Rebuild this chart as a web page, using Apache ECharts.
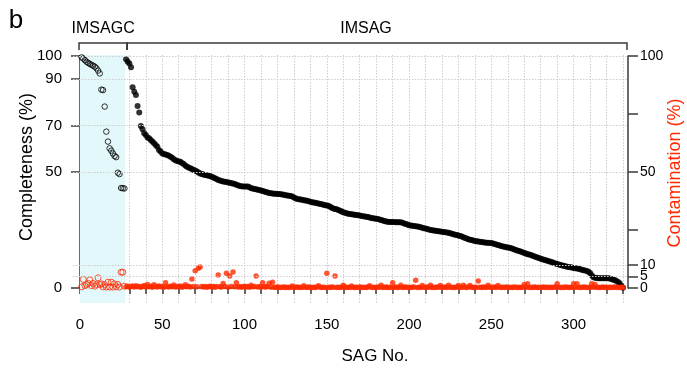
<!DOCTYPE html>
<html><head><meta charset="utf-8">
<script src="https://cdn.jsdelivr.net/npm/echarts@6/dist/echarts.min.js"></script>
<style>html,body{margin:0;padding:0;background:#fff}#c{width:687px;height:368px}</style>
</head><body><div id="c"></div>
<script>
// ---- data (SAG No. starts at 1; IMSAGC = 1..27, IMSAG = 28..330) ----
const imsagcCompleteness = [99.4,98.9,98.2,97.5,97.0,96.6,96.2,95.8,95.4,94.7,93.7,92.5,85.5,85.3,78.2,67.4,63.1,60.2,59.2,58.0,56.9,56.4,49.7,49.1,43.1,43.0,42.9];
const imsagCompleteness = [
98.6,97.5,96.8,95.1,86.5,84.6,83.2,78.4,75.6,69.8,
68.4,66.7,65.9,64.9,64.5,63.8,63.1,62.4,61.6,60.9,
59.5,58.8,58.0,57.8,57.5,57.3,57.0,56.6,56.1,55.5,
55.1,54.7,54.5,54.4,53.9,53.4,52.8,52.3,51.9,51.6,
51.3,50.9,50.6,50.2,49.8,49.4,49.1,48.9,48.7,48.6,
48.4,48.3,47.9,47.6,47.3,47.0,46.6,46.3,46.1,45.9,
45.8,45.7,45.5,45.4,45.2,45.0,44.8,44.5,44.3,44.0,
43.9,43.8,43.8,43.7,43.7,43.4,43.0,42.9,42.7,42.6,
42.4,42.2,42.0,41.8,41.6,41.4,41.2,41.0,40.8,40.7,
40.6,40.6,40.5,40.5,40.4,40.3,40.2,40.0,39.9,39.8,
39.7,39.4,39.0,38.7,38.4,38.3,38.1,38.0,37.8,37.7,
37.6,37.4,37.2,37.0,36.8,36.7,36.5,36.4,36.2,36.1,
35.9,35.7,35.6,35.4,35.0,34.6,34.3,34.1,33.9,33.6,
33.3,33.0,32.7,32.4,32.2,32.0,31.9,31.8,31.7,31.6,
31.5,31.4,31.2,31.0,30.9,30.8,30.7,30.6,30.4,30.2,
30.1,30.0,29.8,29.7,29.5,29.3,29.1,28.9,28.7,28.6,
28.5,28.4,28.4,28.4,28.3,28.3,28.3,28.3,28.1,27.8,
27.6,27.4,27.1,26.9,26.8,26.7,26.6,26.5,26.4,26.2,
26.0,25.8,25.6,25.4,25.2,25.0,24.9,24.8,24.7,24.6,
24.5,24.3,24.2,24.1,24.0,23.9,23.8,23.6,23.4,23.2,
23.0,22.8,22.6,22.4,22.2,21.9,21.6,21.3,21.0,20.8,
20.7,20.5,20.3,20.2,20.0,19.9,19.8,19.7,19.6,19.5,
19.5,19.4,19.4,19.2,19.0,18.8,18.5,18.3,18.1,17.9,
17.8,17.6,17.5,17.3,17.1,16.9,16.6,16.4,16.1,15.9,
15.6,15.4,15.1,14.9,14.6,14.4,14.2,13.9,13.7,13.4,
13.1,12.9,12.6,12.4,12.2,12.0,11.7,11.5,11.3,11.1,
10.8,10.6,10.3,10.1,9.9,9.7,9.6,9.4,9.2,9.0,
8.9,8.8,8.6,8.5,8.4,8.3,8.1,7.9,7.7,7.5,
7.3,7.0,6.5,5.5,4.6,4.4,4.3,4.2,4.2,4.2,
4.2,4.2,4.2,4.2,4.1,3.9,3.6,3.4,3.0,2.6,
2.0,1.0,0.1];
const imsagcContamination = [0.5,3.7,1.0,1.5,2.0,3.5,1.0,2.0,0.8,1.5,4.4,1.5,1.8,0.5,1.5,0.4,2.5,0.4,2.5,0.4,1.8,0.5,1.5,0.4,6.8,6.8,0.8];
const imsagContamination = [
0.5,0.8,0.3,0.6,0.9,0.4,1.0,0.5,0.7,0.3,
0.6,1.1,0.4,1.5,0.5,0.8,0.3,1.4,0.6,0.4,
0.9,0.5,0.7,0.3,2.3,0.6,0.4,0.8,0.5,1.3,
0.4,0.7,0.5,0.9,0.3,0.6,1.4,0.5,0.8,0.4,
3.9,0.6,7.4,0.5,8.5,9.1,0.7,0.4,0.6,0.3,
0.5,0.8,0.4,0.6,0.3,0.7,5.6,0.5,0.4,1.9,
0.6,6.4,0.3,5.2,0.7,6.9,0.5,2.3,0.4,0.6,
0.3,0.5,0.8,0.4,0.6,0.3,1.2,0.5,0.7,5.2,
0.4,0.6,0.3,2.3,0.5,0.4,0.7,2.0,0.3,2.5,
0.3,0.2,0.4,0.3,0.2,0.3,0.4,0.2,0.3,0.2,
0.3,0.9,0.2,0.3,0.4,0.2,0.3,0.2,1.0,0.3,
0.2,0.4,0.3,0.2,0.3,0.2,0.4,1.0,0.3,0.2,
0.3,0.2,6.4,0.3,0.2,0.4,0.3,5.2,0.2,0.3,
0.2,0.3,1.2,0.4,0.2,0.3,0.2,0.9,0.3,0.2,
0.3,0.2,0.4,0.3,0.2,0.3,0.2,0.4,1.0,0.3,
0.2,0.3,0.2,0.4,0.3,1.2,0.2,0.3,0.4,0.2,
0.3,0.2,2.3,0.3,0.4,0.2,0.3,1.2,0.2,0.3,
0.4,0.2,0.3,0.2,0.3,0.4,3.3,0.2,0.3,0.2,
1.1,0.3,0.2,0.4,0.3,1.2,0.2,0.3,0.2,0.4,
0.3,1.1,0.2,0.3,0.4,0.2,1.2,0.3,0.2,0.3,
0.2,0.4,1.1,0.3,0.2,1.2,0.3,0.2,0.4,1.1,
0.3,0.2,0.3,0.2,3.0,0.3,0.2,0.4,0.3,0.2,
1.2,0.3,0.2,0.3,0.4,0.2,1.1,0.3,0.2,0.3,
0.2,0.4,0.3,0.2,0.3,0.2,0.4,0.3,0.2,0.3,
0.2,0.3,1.5,0.3,1.8,0.2,0.3,0.2,0.4,0.3,
0.2,0.3,0.2,0.3,0.4,0.2,0.3,0.2,0.3,0.2,
0.3,0.4,1.8,0.3,0.2,0.3,0.2,0.4,0.3,0.2,
0.3,0.2,1.8,0.3,1.8,0.2,0.3,0.2,0.4,0.3,
0.2,0.3,0.2,1.8,0.3,1.5,0.2,0.3,0.2,0.3,
0.4,0.2,0.3,0.2,0.3,0.2,0.3,0.4,0.2,0.3,
0.2,0.3,0.2];
const groupNames = ['IMSAGC', 'IMSAG'];
const xLabelValues = [0, 50, 100, 150, 200, 250, 300];
const leftTickValues = [0, 50, 70, 90, 100];
const rightTickValues = [0, 5, 10, 25, 50, 75, 100];
const rightLabelValues = [0, 5, 10, 50, 100];
const completenessGridLines = [100, 90, 70, 50];
const contaminationGridLines = [10, 5];
const xMax = 330;

// ---- build ----
const FONT = '"Liberation Sans", Arial, sans-serif';
const RED = '#ff2a00';
const AX = '#3a3a3a';
const firstImsag = imsagcCompleteness.length + 1;
const pairs = (arr, start) => arr.map((v, i) => [start + i, v]);
// right-axis labels are tightly packed at the bottom; split them over two stacked axes so none is dropped
const rightLabelsA = rightLabelValues.filter((v, i) => i % 2 === 0);
const rightLabelsB = rightLabelValues.filter((v, i) => i % 2 === 1);

const chart = echarts.init(document.getElementById('c'), null, { renderer: 'canvas' });
const labelStyle = { color: '#000', fontSize: 15, fontFamily: FONT };
const rightLabelStyle = { margin: 12, showMinLabel: true, showMaxLabel: true, hideOverlap: false, ...labelStyle, fontSize: 14 };

chart.setOption({
  animation: false,
  backgroundColor: '#fff',
  grid: [
    { left: 80, right: 64, top: 56, bottom: 80 },   // data grid
    { left: 80, right: 64, top: 55, bottom: 65 },   // background: band + vertical lines
    { left: 73, right: 59, top: 56, bottom: 80 }    // horizontal dotted lines
  ],
  xAxis: [
    { gridIndex: 0, type: 'value', min: 0, max: xMax, interval: 10, offset: 18,
      axisLine: { lineStyle: { color: AX, width: 1.5 } },
      axisTick: { length: 6, lineStyle: { color: AX, width: 1.5 } },
      axisLabel: { customValues: xLabelValues, margin: 11, ...labelStyle },
      splitLine: { show: false } },
    { gridIndex: 1, type: 'value', min: 0, max: xMax, interval: 10,
      axisLine: { show: false }, axisTick: { show: false }, axisLabel: { show: false },
      splitLine: { show: true, lineStyle: { color: '#cdcdcd', width: 1, type: [1.5, 1.5] } } },
    { gridIndex: 2, type: 'value', min: 0, max: 1, show: false }
  ],
  yAxis: [
    { gridIndex: 0, type: 'value', min: 0, max: 100, offset: 7,
      axisLine: { show: true, lineStyle: { color: AX, width: 1.5 } },
      axisTick: { show: true, customValues: leftTickValues, length: 9, lineStyle: { color: AX, width: 1.5 } },
      axisLabel: { customValues: leftTickValues, margin: 11, showMinLabel: true, showMaxLabel: true, ...labelStyle },
      splitLine: { show: false } },
    { gridIndex: 0, type: 'value', min: 0, max: 100, offset: 5, position: 'right',
      axisLine: { show: true, lineStyle: { color: AX, width: 1.5 } },
      axisTick: { show: true, customValues: rightTickValues, length: 10, lineStyle: { color: AX, width: 1.5 } },
      axisLabel: { customValues: rightLabelsA, ...rightLabelStyle },
      splitLine: { show: false } },
    { gridIndex: 1, type: 'value', min: 0, max: 1, show: false },
    { gridIndex: 2, type: 'value', min: 0, max: 100, show: false },
    { gridIndex: 0, type: 'value', min: 0, max: 100, offset: 5, position: 'right',
      axisLine: { show: false }, axisTick: { show: false },
      axisLabel: { customValues: rightLabelsB, ...rightLabelStyle },
      splitLine: { show: false } }
  ],
  series: [
    { type: 'line', xAxisIndex: 1, yAxisIndex: 2, data: [], silent: true, z: 0,
      markArea: { silent: true, itemStyle: { color: '#e3f8fb' },
        data: [[{ xAxis: 0 }, { xAxis: imsagcCompleteness.length + 0.5 }]] } },
    { type: 'line', xAxisIndex: 2, yAxisIndex: 3, data: [], silent: true, z: 1,
      markLine: { silent: true, symbol: 'none', label: { show: false },
        lineStyle: { color: '#cdcdcd', width: 1, type: [1.5, 1.5] },
        data: completenessGridLines.concat(contaminationGridLines).map(v => ({ yAxis: v })) } },
    { name: 'IMSAGC completeness', type: 'scatter', xAxisIndex: 0, yAxisIndex: 0, z: 3,
      symbol: 'circle', symbolSize: 5.5,
      itemStyle: { color: 'rgba(0,0,0,0)', borderColor: '#000', borderWidth: 1 },
      data: pairs(imsagcCompleteness, 1) },
    { name: 'IMSAG completeness', type: 'scatter', xAxisIndex: 0, yAxisIndex: 0, z: 3,
      symbol: 'circle', symbolSize: 6, itemStyle: { color: '#000' },
      data: pairs(imsagCompleteness, firstImsag) },
    { name: 'IMSAGC contamination', type: 'scatter', xAxisIndex: 0, yAxisIndex: 1, z: 3,
      symbol: 'circle', symbolSize: 6,
      itemStyle: { color: 'rgba(0,0,0,0)', borderColor: RED, borderWidth: 1 },
      data: pairs(imsagcContamination, 1) },
    { name: 'IMSAG contamination', type: 'scatter', xAxisIndex: 0, yAxisIndex: 1, z: 3,
      symbol: 'circle', symbolSize: 5.5, itemStyle: { color: RED },
      data: pairs(imsagContamination, firstImsag) }
  ]
});

// ---- annotations (brackets and titles) ----
const px = v => chart.convertToPixel({ xAxisIndex: 0 }, v);
const bx0 = px(0) - 1, bx1 = px(imsagcCompleteness.length + 0.5) + 2;
const bx2 = px(imsagcCompleteness.length + 1.5), bx3 = px(xMax) + 4;
const bTop = 43, bBot = 50;
const bracket = (a, b) => ({ type: 'polyline', silent: true,
  shape: { points: [[a, bBot], [a, bTop], [b, bTop], [b, bBot]] },
  style: { stroke: AX, lineWidth: 1.5, fill: null } });
const txt = (text, x, y, size, color, rot) => ({ type: 'text', silent: true, x, y, rotation: rot || 0,
  style: { text, fill: color || '#000', font: size + 'px ' + FONT, align: 'center', verticalAlign: 'middle' } });

chart.setOption({
  graphic: [
    bracket(bx0, bx1), bracket(bx2, bx3),
    txt(groupNames[0], (bx0 + bx1) / 2, 29, 16),
    txt(groupNames[1], 366, 29, 16),
    txt('b', 16, 21, 26),
    txt('Completeness (%)', 27, 167, 18, '#000', Math.PI / 2),
    txt('Contamination (%)', 675, 173, 18, RED, Math.PI / 2),
    txt('SAG No.', 375, 356, 17)
  ]
});
</script>
</body></html>
